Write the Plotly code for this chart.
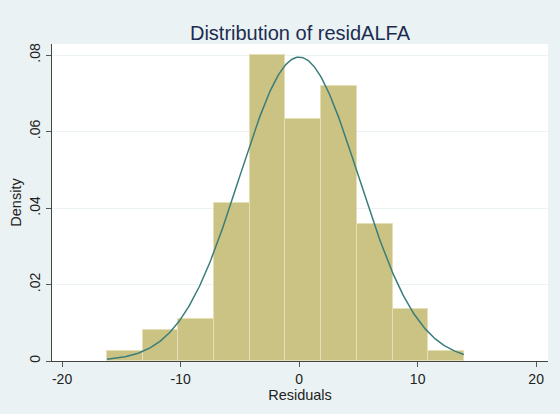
import numpy as np
import plotly.graph_objects as go

# Histogram data (density per bin)
bin_start = -16.2
bin_width = 3.01
densities = [0.0026, 0.0081, 0.0109, 0.0413, 0.0800, 0.0634, 0.0718, 0.0358, 0.0137, 0.0025]
# Normal overlay parameters (Stata "normal" option)
norm_mean = 0.0
norm_sd = 5.02

x_ticks = [-20, -10, 0, 10, 20]
x_tick_labels = ["-20", "-10", "0", "10", "20"]
y_ticks = [0, 0.02, 0.04, 0.06, 0.08]
y_tick_labels = ["0", ".02", ".04", ".06", ".08"]

centers = [bin_start + bin_width * (i + 0.5) for i in range(len(densities))]
x_lo = bin_start
x_hi = bin_start + bin_width * len(densities)
xs = np.linspace(x_lo, x_hi, 300)
ys = np.exp(-0.5 * ((xs - norm_mean) / norm_sd) ** 2) / (norm_sd * np.sqrt(2 * np.pi))

bg = "#eaf2f3"
fig = go.Figure()
fig.add_trace(go.Bar(
    x=centers, y=densities, width=bin_width,
    marker=dict(color="#cbc383", line=dict(color="#e4dfb5", width=1)),
    hoverinfo="skip", showlegend=False,
))
fig.add_trace(go.Scatter(
    x=xs, y=ys, mode="lines",
    line=dict(color="#3a7d7a", width=1.5),
    showlegend=False,
))
fig.update_layout(
    width=560, height=414,
    paper_bgcolor=bg, plot_bgcolor="white",
    margin=dict(l=52, r=12, t=44, b=53),
    bargap=0,
    font=dict(family="Liberation Sans, Arial, sans-serif", size=14, color="#222222"),
    title=dict(text="Distribution of residALFA",
               x=300 / 560, xanchor="center", y=1 - 33 / 414, yanchor="middle",
               font=dict(size=20, color="#1c2c50")),
)
fig.update_xaxes(
    range=[-20.85, 21.0], tickvals=x_ticks, ticktext=x_tick_labels,
    showgrid=False, zeroline=False,
    showline=True, linecolor="#444444", linewidth=1,
    ticks="outside", ticklen=5, tickcolor="#555555",
    tickfont=dict(size=14),
    title=dict(text="Residuals", font=dict(size=14.5), standoff=1),
)
fig.update_yaxes(
    range=[0, 0.0829], tickvals=y_ticks, ticktext=y_tick_labels, tickangle=-90,
    showgrid=True, gridcolor=bg, gridwidth=1, zeroline=False,
    showline=True, linecolor="#444444", linewidth=1,
    ticks="outside", ticklen=5, tickcolor="#555555",
    tickfont=dict(size=14),
    title=dict(text="Density", font=dict(size=14.5), standoff=2),
)
fig.write_html("out.html")
